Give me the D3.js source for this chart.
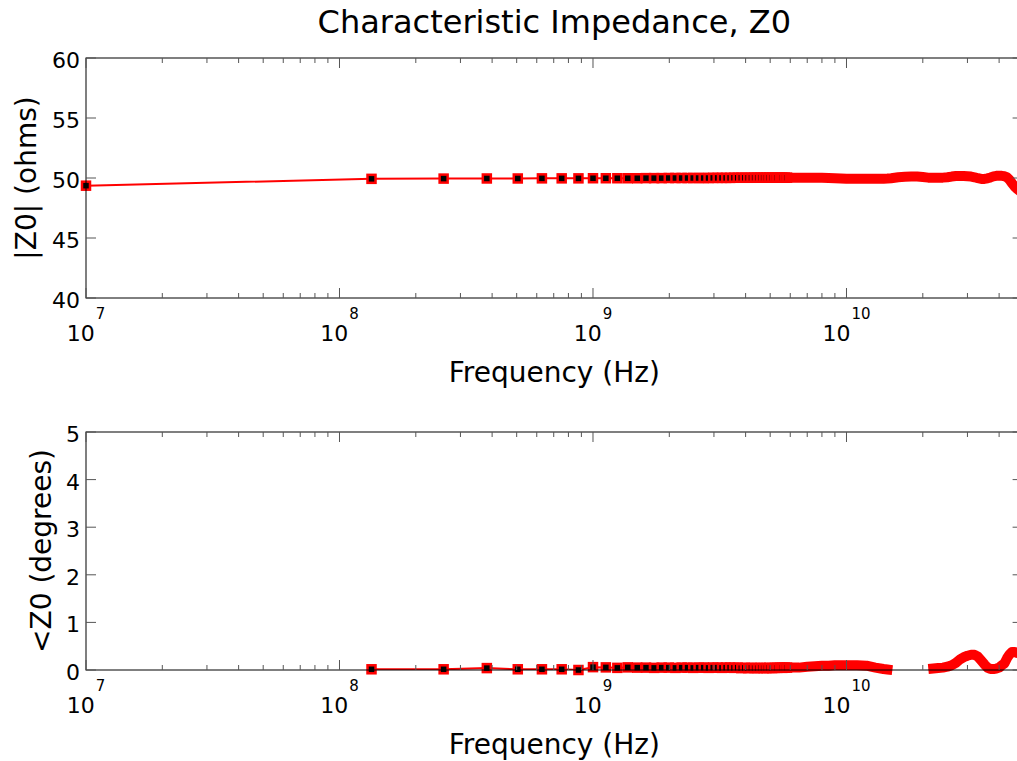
<!DOCTYPE html>
<html>
<head>
<meta charset="utf-8">
<script src="https://cdn.jsdelivr.net/npm/d3@7/dist/d3.min.js"></script>
<style>
    body { margin: 0; background: #fff; }
    svg { display: block; }
    text { font-family: "DejaVu Sans", sans-serif; fill: #000; }
</style>
</head>
<body>
<svg id="chart" width="1017" height="761"></svg>
<script>
// sample frequencies (GHz) – discrete markers up to ~6 GHz, then the dense part
var freqGHz = [0.01, 0.13375, 0.2575, 0.38125, 0.505, 0.62875, 0.7525, 0.87625, 1.0, 1.12375,
    1.2475, 1.37125, 1.495, 1.61875, 1.7425, 1.86625, 1.99, 2.11375, 2.2375, 2.36125,
    2.485, 2.60875, 2.7325, 2.85625, 2.98, 3.10375, 3.2275, 3.35125, 3.475, 3.59875,
    3.7225, 3.84625, 3.97, 4.09375, 4.2175, 4.34125, 4.465, 4.58875, 4.7125, 4.83625,
    4.96, 5.08375, 5.2075, 5.33125, 5.455, 5.57875, 5.7025, 5.82625, 5.95,
    6.5, 7, 7.5, 8, 8.5, 9, 9.5, 10, 11, 12, 13, 14, 14.5, 15, 16, 17, 18, 19, 20,
    21, 22, 23, 24, 25, 26, 27, 28, 29, 30, 31, 32, 33, 34, 35, 36, 37, 38, 39, 40,
    41, 42, 43, 44, 45, 46, 47, 48, 49, 49.51];

var magOhms = [49.36, 49.93, 49.95, 49.96, 49.96, 49.97, 49.97, 49.97, 49.98, 49.98,
    49.98, 49.98, 49.98, 49.99, 49.99, 49.99, 50.0, 50.0, 50.0, 50.0,
    50.0, 50.0, 50.0, 50.0, 50.01, 50.01, 50.01, 50.01, 50.01, 50.02,
    50.02, 50.02, 50.02, 50.02, 50.02, 50.03, 50.03, 50.03, 50.03, 50.03,
    50.03, 50.03, 50.03, 50.03, 50.03, 50.03, 50.03, 50.03, 50.03,
    50.03, 50.03, 50.03, 50.02, 50.0, 49.98, 49.96, 49.93, 49.93, 49.93, 49.93, 49.93, 49.95, 49.98, 50.06, 50.1, 50.12, 50.12, 50.08,
    50.03, 50.02, 50.02, 50.03, 50.06, 50.12, 50.16, 50.17, 50.16, 50.14, 50.12, 50.06, 49.98, 49.92, 49.92, 49.97, 50.05, 50.14, 50.18, 50.19,
    50.18, 50.15, 50.05, 49.85, 49.55, 49.3, 49.1, 48.95, 48.8, 48.75];

var phaseDeg = [null, 0.015, 0.015, 0.04, 0.015, 0.015, 0.015, 0.0, 0.06, 0.055,
    0.045, 0.055, 0.05, 0.05, 0.045, 0.05, 0.05, 0.045, 0.05, 0.05,
    0.045, 0.05, 0.05, 0.045, 0.05, 0.05, 0.045, 0.05, 0.05, 0.045,
    0.05, 0.04, 0.045, 0.04, 0.045, 0.04, 0.04, 0.045, 0.04, 0.04,
    0.045, 0.04, 0.045, 0.045, 0.05, 0.045, 0.05, 0.05, 0.05,
    0.05, 0.07, 0.08, 0.09, 0.09, 0.1, 0.1, 0.1, 0.1, 0.09, 0.05, 0.02, 0.01, -0.1, -0.2, -0.25, -0.25, -0.2, -0.1,
    -0.02, 0.03, 0.04, 0.05, 0.07, 0.1, 0.15, 0.22, 0.27, 0.3, 0.32, 0.32, 0.28, 0.2, 0.12, 0.05, 0.02, 0.02, 0.03, 0.05,
    0.1, 0.14, 0.25, 0.33, 0.38, 0.38, 0.36, 0.35, 0.35, 0.34];

var xTickExponents = [7, 8, 9, 10];
var magTicks = [40, 45, 50, 55, 60];
var phaseTicks = [0, 1, 2, 3, 4, 5];
var titleText = 'Characteristic Impedance, Z0';
var xLabelText = 'Frequency (Hz)';
var denseFromGHz = 5.95;

var svg = d3.select('#chart');
var plotLeft = 86, plotRight = 1022.6;

var x = d3.scaleLog().domain([freqGHz[0] * 1e9, freqGHz[freqGHz.length - 1] * 1e9]).range([plotLeft, plotRight]);

var points = function (values) {
    return freqGHz.map(function (f, i) { return { f: f * 1e9, ghz: f, v: values[i] }; });
};

var drawPanel = function (cfg) {
    var y = d3.scaleLinear().domain(cfg.yDomain).range([cfg.bottom, cfg.top]);
    var data = points(cfg.values);
    var g = svg.append('g');

    g.append('clipPath').attr('id', cfg.clipId)
        .append('rect')
        .attr('x', plotLeft).attr('y', cfg.top)
        .attr('width', plotRight - plotLeft).attr('height', cfg.bottom - cfg.top);

    var thinLine = d3.line()
        .defined(function (d) { return d.v !== null; })
        .x(function (d) { return x(d.f); })
        .y(function (d) { return y(d.v); });

    g.append('path')
        .datum(data)
        .attr('clip-path', 'url(#' + cfg.clipId + ')')
        .attr('d', thinLine)
        .attr('fill', 'none')
        .attr('stroke', '#ff0000')
        .attr('stroke-width', 2);

    var sparse = data.filter(function (d) {
        return d.ghz < denseFromGHz && d.v !== null && d.v >= cfg.yDomain[0] && d.v <= cfg.yDomain[1];
    });
    g.selectAll('rect.marker')
        .data(sparse)
        .enter()
        .append('rect')
        .attr('class', 'marker')
        .attr('x', function (d) { return x(d.f) - 4; })
        .attr('y', function (d) { return y(d.v) - 4; })
        .attr('width', 8)
        .attr('height', 8)
        .attr('fill', '#000')
        .attr('stroke', '#ff0000')
        .attr('stroke-width', 2.5);

    // dense markers overlap into a solid red band
    var dense = data.filter(function (d) { return d.ghz >= denseFromGHz; });
    var bandLine = d3.line()
        .defined(function (d) { return d.v !== null && d.v >= cfg.yDomain[0]; })
        .x(function (d) { return x(d.f); })
        .y(function (d) { return y(d.v); });
    g.append('path')
        .datum(dense)
        .attr('d', bandLine)
        .attr('fill', 'none')
        .attr('stroke', '#ff0000')
        .attr('stroke-width', 10)
        .attr('stroke-linecap', 'square')
        .attr('stroke-linejoin', 'round');

    // axes box + ticks on top
    var axis = svg.append('g');
    axis.append('rect')
        .attr('x', plotLeft).attr('y', cfg.top)
        .attr('width', plotRight - plotLeft).attr('height', cfg.bottom - cfg.top)
        .attr('fill', 'none').attr('stroke', '#000').attr('stroke-width', 1);

    cfg.yTicks.forEach(function (t) {
        var yy = y(t);
        axis.append('line').attr('x1', plotLeft).attr('x2', plotLeft + 10).attr('y1', yy).attr('y2', yy)
            .attr('stroke', '#555').attr('stroke-width', 1);
        axis.append('line').attr('x1', plotRight).attr('x2', plotRight - 10).attr('y1', yy).attr('y2', yy)
            .attr('stroke', '#555').attr('stroke-width', 1);
        axis.append('text')
            .attr('x', plotLeft - 6).attr('y', yy + 10)
            .attr('text-anchor', 'end')
            .attr('font-size', 22)
            .text(t);
    });

    x.ticks().forEach(function (t) {
        var xx = x(t);
        var major = Math.abs(Math.log10(t) - Math.round(Math.log10(t))) < 1e-9;
        var len = major ? 10 : 5;
        axis.append('line').attr('x1', xx).attr('x2', xx).attr('y1', cfg.bottom).attr('y2', cfg.bottom - len)
            .attr('stroke', '#555').attr('stroke-width', 1);
        axis.append('line').attr('x1', xx).attr('x2', xx).attr('y1', cfg.top).attr('y2', cfg.top + len)
            .attr('stroke', '#555').attr('stroke-width', 1);
    });

    xTickExponents.forEach(function (e) {
        var label = axis.append('text')
            .attr('x', x(Math.pow(10, e)))
            .attr('y', cfg.bottom + 43)
            .attr('text-anchor', 'middle')
            .attr('font-size', 22);
        label.append('tspan').text('10');
        label.append('tspan').attr('dy', -22).attr('dx', 1).attr('font-size', 15).text(e);
    });

    axis.append('text')
        .attr('x', (plotLeft + plotRight) / 2)
        .attr('y', cfg.bottom + 84)
        .attr('text-anchor', 'middle')
        .attr('font-size', 28)
        .text(xLabelText);

    axis.append('text')
        .attr('transform', 'translate(' + cfg.labelX + ',' + ((cfg.top + cfg.bottom) / 2) + ') rotate(-90)')
        .attr('text-anchor', 'middle')
        .attr('font-size', 28)
        .text(cfg.yLabel);
};

svg.append('rect').attr('width', 1017).attr('height', 761).attr('fill', '#fff');

svg.append('text')
    .attr('x', (plotLeft + plotRight) / 2)
    .attr('y', 33)
    .attr('text-anchor', 'middle')
    .attr('font-size', 32)
    .text(titleText);

drawPanel({ top: 58, bottom: 298, yDomain: [40, 60], yTicks: magTicks, values: magOhms,
    yLabel: '|Z0| (ohms)', labelX: 36, clipId: 'clipMag' });
drawPanel({ top: 432, bottom: 670, yDomain: [0, 5], yTicks: phaseTicks, values: phaseDeg,
    yLabel: '<Z0 (degrees)', labelX: 51, clipId: 'clipPhase' });
</script>
</body>
</html>
